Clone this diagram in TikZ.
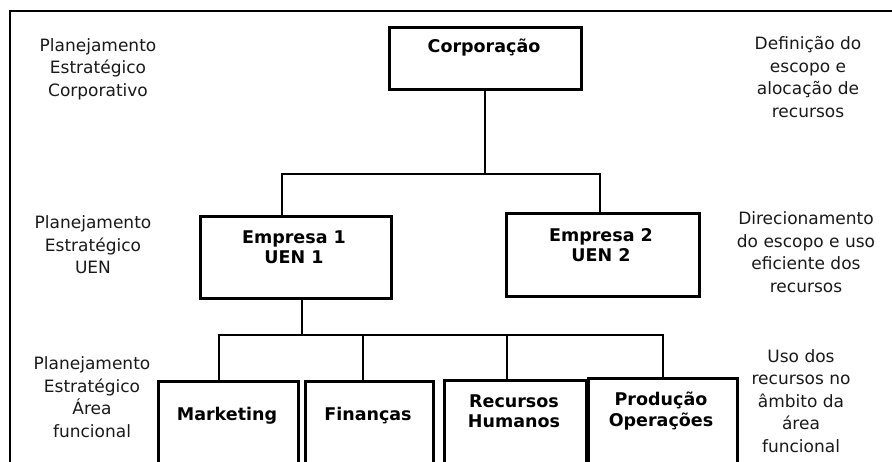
\documentclass[tikz,border=0pt]{standalone}
\usepackage{fontspec}
\setmainfont{DejaVu Sans}
\begin{document}
\begin{tikzpicture}[x=1pt,y=-1pt,
  box/.style={draw=black, line width=2.6pt, fill=none, inner sep=0pt, anchor=north west},
  boxtext/.style={font=\bfseries\fontsize{17.5}{20.5}\selectfont, align=center, inner sep=0pt, text=black},
  note/.style={font=\fontsize{17}{22.5}\selectfont, align=center, inner sep=0pt, text=black!90},
  link/.style={draw=black, line width=1.4pt},
  frame/.style={draw=black, line width=2pt}]
\useasboundingbox (0,0) rectangle (892,461);
\clip (0,0) rectangle (892,461);

% outer frame (open on the right and at the bottom)
\coordinate (ftr) at (895,11);
\coordinate (ftl) at (10,11);
\coordinate (fbl) at (10,470);
\draw[frame] (ftr) -- (ftl) -- (fbl);

% level 1
\node[box, minimum width=192, minimum height=62] (corp) at (388,26) {};
\node[boxtext] (corpt) at (484,48) {Corporação};

% level 2
\node[box, minimum width=191, minimum height=82] (e1) at (199,215) {};
\node[boxtext] (e1t) at (294,247) {Empresa 1\\UEN 1};
\node[box, minimum width=193, minimum height=83] (e2) at (505,212) {};
\node[boxtext] (e2t) at (601,245) {Empresa 2\\UEN 2};

% level 3 (boxes run past the lower edge)
\node[box, minimum width=140, minimum height=100] (mk) at (157,380) {};
\node[boxtext] (mkt) at (227,416) {Marketing};
\node[box, minimum width=128, minimum height=100] (fin) at (304,380) {};
\node[boxtext] (fint) at (368,416) {Finanças};
\node[box, minimum width=142, minimum height=100] (rh) at (443,379) {};
\node[boxtext] (rht) at (514,411) {Recursos\\Humanos};
\node[box, minimum width=149, minimum height=100] (po) at (587,377) {};
\node[boxtext] (pot) at (661,411) {Produção\\Operações};

% connectors, level 1 to level 2
\coordinate (b1) at (485,174);
\coordinate (j1) at (282,174);
\coordinate (j2) at (600,174);
\draw[link] (b1 |- corp.south) -- (b1);
\draw[link] (j1 |- e1.north) -- (j1) -- (j2) -- (j2 |- e2.north);

% connectors, level 2 to level 3
\coordinate (b2) at (302,335);
\coordinate (k1) at (219,335);
\coordinate (k2) at (363,335);
\coordinate (k3) at (507,335);
\coordinate (k4) at (663,335);
\draw[link] (b2 |- e1.south) -- (b2);
\draw[link] (k1 |- mk.north) -- (k1) -- (k4) -- (k4 |- po.north);
\draw[link] (k2) -- (k2 |- fin.north);
\draw[link] (k3) -- (k3 |- rh.north);

% planning levels (left)
\node[note] (l1) at (98,69) {Planejamento\\Estratégico\\Corporativo};
\node[note] (l2) at (93,245) {Planejamento\\Estratégico\\UEN};
\node[note] (l3) at (92,397) {Planejamento\\Estratégico\\Área\\funcional};

% scope of each level (right)
\node[note] (r1) at (808,77) {Definição do\\escopo e\\alocação de\\recursos};
\node[note] (r2) at (806,252) {Direcionamento\\do escopo e uso\\eficiente dos\\recursos};
\node[note] (r3) at (801,401) {Uso dos\\recursos no\\âmbito da\\área\\funcional};
\end{tikzpicture}
\end{document}
